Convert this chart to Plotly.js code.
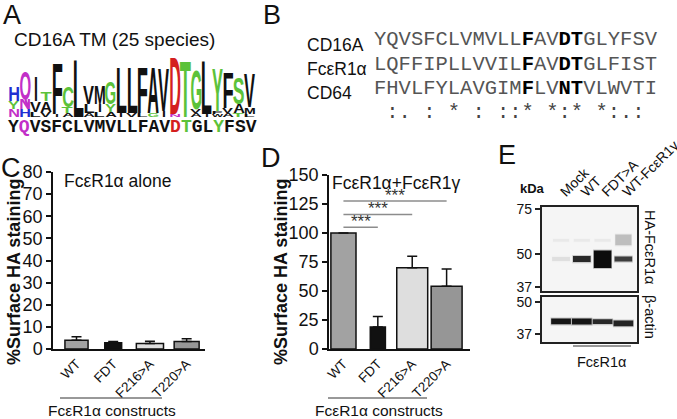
<!DOCTYPE html>
<html>
<head>
<meta charset="utf-8">
<script src="https://cdn.plot.ly/plotly-3.0.1.min.js"></script>
<style>
  body { margin: 0; background: #fff; }
  #fig { width: 677px; height: 419px; }
</style>
</head>
<body>
<div id="fig"></div>
<script>
const W = 677, H = 419;

// ---- panels C and D : surface HA staining ----
const constructs = ['WT', 'FDT', 'F216>A', 'T220>A'];
const aloneMean = [4.0, 2.8, 2.5, 3.4];
const aloneErr = [1.5, 0.6, 1.0, 1.2];
const gammaMean = [100, 19, 70, 54];
const gammaErr = [0, 9, 10, 15];
const sigPairs = [['WT', 'FDT'], ['WT', 'F216>A'], ['WT', 'T220>A']];
const sigLevels = [105, 116, 127.5];
const sigLabels = ['***', '***', '***'];

// ---- panel E : western blot (band extents in kDa) ----
const lanes = ['Mock', 'WT', 'FDT>A', 'WT-FcεR1γ'];
const haLow = [46.8, 46.4, 44.0, 46.6];
const haHigh = [48.6, 49.0, 51.5, 48.8];
const haIntensity = [0.08, 0.85, 1.0, 0.75];
const haUpperLow = [55.8, 55.8, 55.8, 54.0];
const haUpperHigh = [57.2, 57.2, 57.2, 59.5];
const haUpperIntensity = [0.04, 0.04, 0.04, 0.2];
const actinLow = [40.5, 40.4, 40.6, 39.8];
const actinHigh = [42.8, 42.8, 42.5, 42.0];
const actinIntensity = [0.95, 0.95, 0.85, 0.88];

// ---- panel A : sequence logo (letters bottom -> top, heights in bits) ----
const logoStacks = ['NYH', 'HNQ', 'LVI', 'VAT', 'IF', 'ATC', 'L', 'ALV', 'LIM', 'AYG', 'IL', 'VL',
  'LF', 'GA', 'IV', 'ND', 'T', 'AVG', 'IL', 'WFY', 'AVF', 'TAS', 'LMV'];
const logoBits = [[0.6, 0.6, 1.12], [0.6, 0.75, 2.09], [0.37, 0.82, 1.87], [0.37, 0.82, 0.67],
  [0.22, 3.88], [0.3, 0.45, 1.57], [4.32], [0.3, 0.67, 1.34], [0.37, 0.6, 1.34], [0.37, 0.6, 1.64],
  [0.3, 3.43], [0.3, 3.43], [0.3, 3.43], [0.3, 3.43], [0.45, 3.28], [0.22, 4.33], [4.25],
  [0.3, 0.3, 2.99], [0.22, 4.1], [0.22, 0.22, 3.28], [0.3, 0.37, 2.69], [0.3, 0.67, 2.01], [0.22, 0.52, 2.61]];
const humanSeq = 'YQVSFCLVMVLLFAVDTGLYFSV';
const humanSeqColored = [1, 15, 16, 19];

// ---- panel B : alignment ----
const alignNames = ['CD16A', 'FcεR1α', 'CD64'];
const alignSeqs = ['YQVSFCLVMVLLFAVDTGLYFSV', 'LQFFIPLLVVILFAVDTGLFIST', 'FHVLFYLAVGIMFLVNTVLWVTI'];
const alignBold = [12, 15, 16];
const alignConsensus = ' :. : * : ::* *:* *:.: ';

const config = { displayModeBar: false, responsive: false };
const FONT = 'Liberation Sans, Arial, sans-serif';
const MONO = 'Liberation Mono, Courier New, monospace';
const px = p => p / W;
const py = p => 1 - p / H;

// residue colours (chemistry scheme)
const aaColor = { G: '#5cc23a', S: '#5cc23a', T: '#5cc23a', Y: '#5cc23a', C: '#5cc23a',
  N: '#c22fc8', Q: '#c22fc8', K: '#1f2fd2', R: '#1f2fd2', H: '#1f2fd2', D: '#d41f1f', E: '#d41f1f' };
const colorOf = aa => aaColor[aa] || '#111';

const barColors = ['#a2a2a2', '#111111', '#dedede', '#969696'];
const zeros = constructs.map(() => 0);

function barTrace(y, err, xa, ya, widths) {
  return {
    type: 'bar', x: constructs, y: y, xaxis: xa, yaxis: ya, width: widths,
    marker: { color: barColors, line: { color: '#111', width: 1.5 } },
    error_y: { type: 'data', symmetric: false, array: err, arrayminus: zeros,
      color: '#111', thickness: 1.5, width: 5 },
    hoverinfo: 'skip', showlegend: false
  };
}

function bandTraces(low, high, intensity, xa, ya, width) {
  const halo = {
    type: 'bar', x: lanes, xaxis: xa, yaxis: ya, width: width + 0.06,
    base: low.map(v => v * 0.99), y: high.map((h, i) => h * 1.01 - low[i] * 0.99),
    marker: { color: '#111', opacity: intensity.map(v => v * 0.22), line: { width: 0 } },
    hoverinfo: 'skip', showlegend: false
  };
  const core = {
    type: 'bar', x: lanes, xaxis: xa, yaxis: ya, width: width,
    base: low, y: high.map((h, i) => h - low[i]),
    marker: { color: '#0c0c0c', opacity: intensity, line: { width: 0 } },
    hoverinfo: 'skip', showlegend: false
  };
  return [halo, core];
}

const data = [
  barTrace(aloneMean, aloneErr, 'x', 'y', [0.63, 0.46, 0.74, 0.68]),
  barTrace(gammaMean, gammaErr, 'x2', 'y2', [0.73, 0.44, 0.9, 0.9]),
  ...bandTraces(haUpperLow, haUpperHigh, haUpperIntensity, 'x3', 'y3', 0.78),
  ...bandTraces(haLow, haHigh, haIntensity, 'x3', 'y3', 0.85),
  ...bandTraces(actinLow, actinHigh, actinIntensity, 'x4', 'y4', 0.95),
  { type: 'scatter', x: [], y: [], xaxis: 'x5', yaxis: 'y5', showlegend: false, hoverinfo: 'skip' }
];

const valAxis = (top, max, dtick, anchor) => ({
  domain: [py(349), py(top)], range: [0, max], dtick: dtick, anchor: anchor,
  showline: true, linewidth: 1.5, linecolor: '#111', ticks: 'outside', ticklen: 5,
  tickwidth: 1.5, tickcolor: '#111', tickfont: { size: 18 }, showgrid: false, zeroline: false
});
const catAxis = (x0, x1, range, anchor) => ({
  domain: [px(x0), px(x1)], range: range, type: 'category', anchor: anchor,
  showline: true, linewidth: 1.5, linecolor: '#111', ticks: '', tickangle: -45,
  tickfont: { size: 13.5 }, showgrid: false, zeroline: false
});
const blotY = (top, bottom, range, vals, anchor) => ({
  domain: [py(bottom), py(top)], type: 'log', range: range, tickvals: vals, anchor: anchor,
  showline: true, mirror: true, linewidth: 1.5, linecolor: '#222', ticks: 'outside',
  ticklen: 5, tickwidth: 1.5, tickcolor: '#222', tickfont: { size: 14 }, showgrid: false, zeroline: false
});

const annotations = [];
const shapes = [];
const text = (x, y, t, size, extra) => annotations.push(Object.assign({
  xref: 'paper', yref: 'paper', x: px(x), y: py(y), text: t, showarrow: false,
  xanchor: 'center', yanchor: 'middle',
  font: { size: size, family: FONT, color: '#111' }
}, extra || {}));

// panel letters
[['A', 12, 15], ['B', 272, 15], ['C', 11, 168], ['D', 271, 158], ['E', 507, 155]]
  .forEach(([l, x, y]) => text(x, y, l, 27));

// panel A
text(12, 40, 'CD16A TM (25 species)', 19, { xanchor: 'left' });
const logoIndex = {};
logoStacks.forEach((stack, i) => {
  let cum = 0;
  stack.split('').forEach((aa, k) => {
    logoIndex[annotations.length] = logoBits[i][k];
    annotations.push({
      xref: 'x5', yref: 'y5', x: i, y: cum, text: '<b>' + aa + '</b>', showarrow: false,
      xanchor: 'center', yanchor: 'bottom', borderpad: 0, borderwidth: 0,
      font: { size: 14, family: FONT, color: colorOf(aa) }
    });
    cum += logoBits[i][k];
  });
});
annotations.push({
  xref: 'x5', yref: 'paper', x: (humanSeq.length - 1) / 2, y: py(127.5), showarrow: false,
  xanchor: 'center', yanchor: 'middle',
  text: '<b>' + humanSeq.split('').map((aa, i) => humanSeqColored.includes(i)
    ? '<span style="color:' + colorOf(aa) + '">' + aa + '</span>' : aa).join('') + '</b>',
  font: { size: 18, family: MONO, color: '#111' }
});

// panel B
const rowY = [40, 64, 88];
alignNames.forEach((n, r) => {
  text(305, rowY[r] + 5, n, 17.5, { xanchor: 'left' });
  const seq = alignSeqs[r].split('').map((aa, i) => alignBold.includes(i)
    ? '<b><span style="color:#000">' + aa + '</span></b>' : aa).join('');
  text(372, rowY[r], seq, 20.5, { xanchor: 'left', font: { size: 20.5, family: MONO, color: '#555' } });
});
text(372, 113, alignConsensus.replace(/ /g, '\u00a0'), 20.5,
  { xanchor: 'left', font: { size: 20.5, family: MONO, color: '#444' } });

// panels C and D titles
text(14, 272, '<b>%Surface HA staining</b>', 18, { textangle: -90 });
text(281, 272, '<b>%Surface HA staining</b>', 18, { textangle: -90 });
text(62, 181, 'FcεR1α alone', 17.5, { xanchor: 'left' });
text(330, 183, 'FcεR1α+FcεR1γ', 17.5, { xanchor: 'left' });
text(112, 410, 'FcεR1α constructs', 15.5);
text(379, 410, 'FcεR1α constructs', 15.5);
[[60, 162, 398], [328, 427, 398], [573, 631, 346]].forEach(([x0, x1, y]) => shapes.push({
  type: 'line', xref: 'paper', yref: 'paper', x0: px(x0), x1: px(x1), y0: py(y), y1: py(y),
  line: { color: '#333', width: 1 }
}));

// significance brackets
sigPairs.forEach(([a, b], i) => {
  const i0 = constructs.indexOf(a), i1 = constructs.indexOf(b);
  shapes.push({ type: 'line', xref: 'x2', yref: 'y2', x0: i0, x1: i1, y0: sigLevels[i], y1: sigLevels[i],
    line: { color: '#8c8c8c', width: 1.5 } });
  annotations.push({ xref: 'x2', yref: 'y2', x: (i0 + i1) / 2, y: sigLevels[i], text: sigLabels[i],
    showarrow: false, xanchor: 'center', yanchor: 'bottom', yshift: -6,
    font: { size: 17, family: FONT, color: '#333' } });
});

// panel E labels
text(532, 188, '<b>kDa</b>', 13);
text(650, 247, 'HA-FcεR1α', 14.5, { textangle: 90 });
text(650, 317, 'β-actin', 14.5, { textangle: 90 });
text(602, 362, 'FcεR1α', 14.5);
['y3', 'y4'].forEach(ya => shapes.push({
  type: 'rect', xref: 'x3 domain', yref: ya + ' domain', x0: 0, x1: 1, y0: 0, y1: 1,
  fillcolor: '#f5f5f5', line: { width: 0 }, layer: 'below'
}));

const layout = {
  width: W, height: H, margin: { l: 0, r: 0, t: 0, b: 0 },
  paper_bgcolor: '#fff', plot_bgcolor: 'rgba(0,0,0,0)',
  font: { family: FONT, color: '#111' },
  barmode: 'overlay', showlegend: false,
  xaxis: catAxis(53, 205, [-0.64, 3.5], 'y'),
  yaxis: valAxis(172, 80, 10, 'x'),
  xaxis2: catAxis(329, 470, [-0.42, 3.68], 'y2'),
  yaxis2: valAxis(175, 150, 25, 'x2'),
  xaxis3: Object.assign(catAxis(541.7, 637.3, [-0.93, 3.67], 'y3'),
    { side: 'top', mirror: true, linecolor: '#222', tickfont: { size: 14 } }),
  yaxis3: blotY(207, 291, [1.5527, 1.8831], [37, 50, 75], 'x3'),
  xaxis4: Object.assign(catAxis(541.7, 637.3, [-0.93, 3.67], 'y4'),
    { mirror: true, linecolor: '#222', showticklabels: false }),
  yaxis4: blotY(297, 342, [1.535, 1.7195], [37, 50], 'x4'),
  xaxis5: { domain: [px(9), px(255)], range: [-0.5, 22.5], type: 'linear', visible: false, anchor: 'y5' },
  yaxis5: { domain: [py(117), py(59)], range: [0, 4.32], type: 'linear', visible: false, anchor: 'x5' },
  annotations: annotations,
  shapes: shapes
};

Plotly.newPlot('fig', data, layout, config).then(gd => {
  // stretch logo letters so their height matches the bits
  const ya = gd._fullLayout.yaxis5;
  const colW = Math.abs(gd._fullLayout.xaxis5.l2p(1) - gd._fullLayout.xaxis5.l2p(0));
  gd.querySelectorAll('.annotation').forEach(g => {
    const idx = g.getAttribute('data-index');
    if (!(idx in logoIndex)) return;
    const t = g.querySelector('text.annotation-text');
    if (!t) return;
    const bb = t.getBBox();
    const hpx = Math.abs(ya.l2p(logoIndex[idx]) - ya.l2p(0));
    const cap = 0.716 * 14;
    const sy = hpx / cap;
    const sx = t.textContent === 'I' ? 1 : colW * 1.1 / bb.width;
    const cx = bb.x + bb.width / 2;
    const bottom = bb.y + bb.height;
    const base = bb.y + bb.height * 0.81;
    t.setAttribute('transform', 'translate(' + cx + ',' + bottom + ') scale(' + sx + ',' + sy +
      ') translate(' + (-cx) + ',' + (-base) + ')');
  });
});
</script>
</body>
</html>
